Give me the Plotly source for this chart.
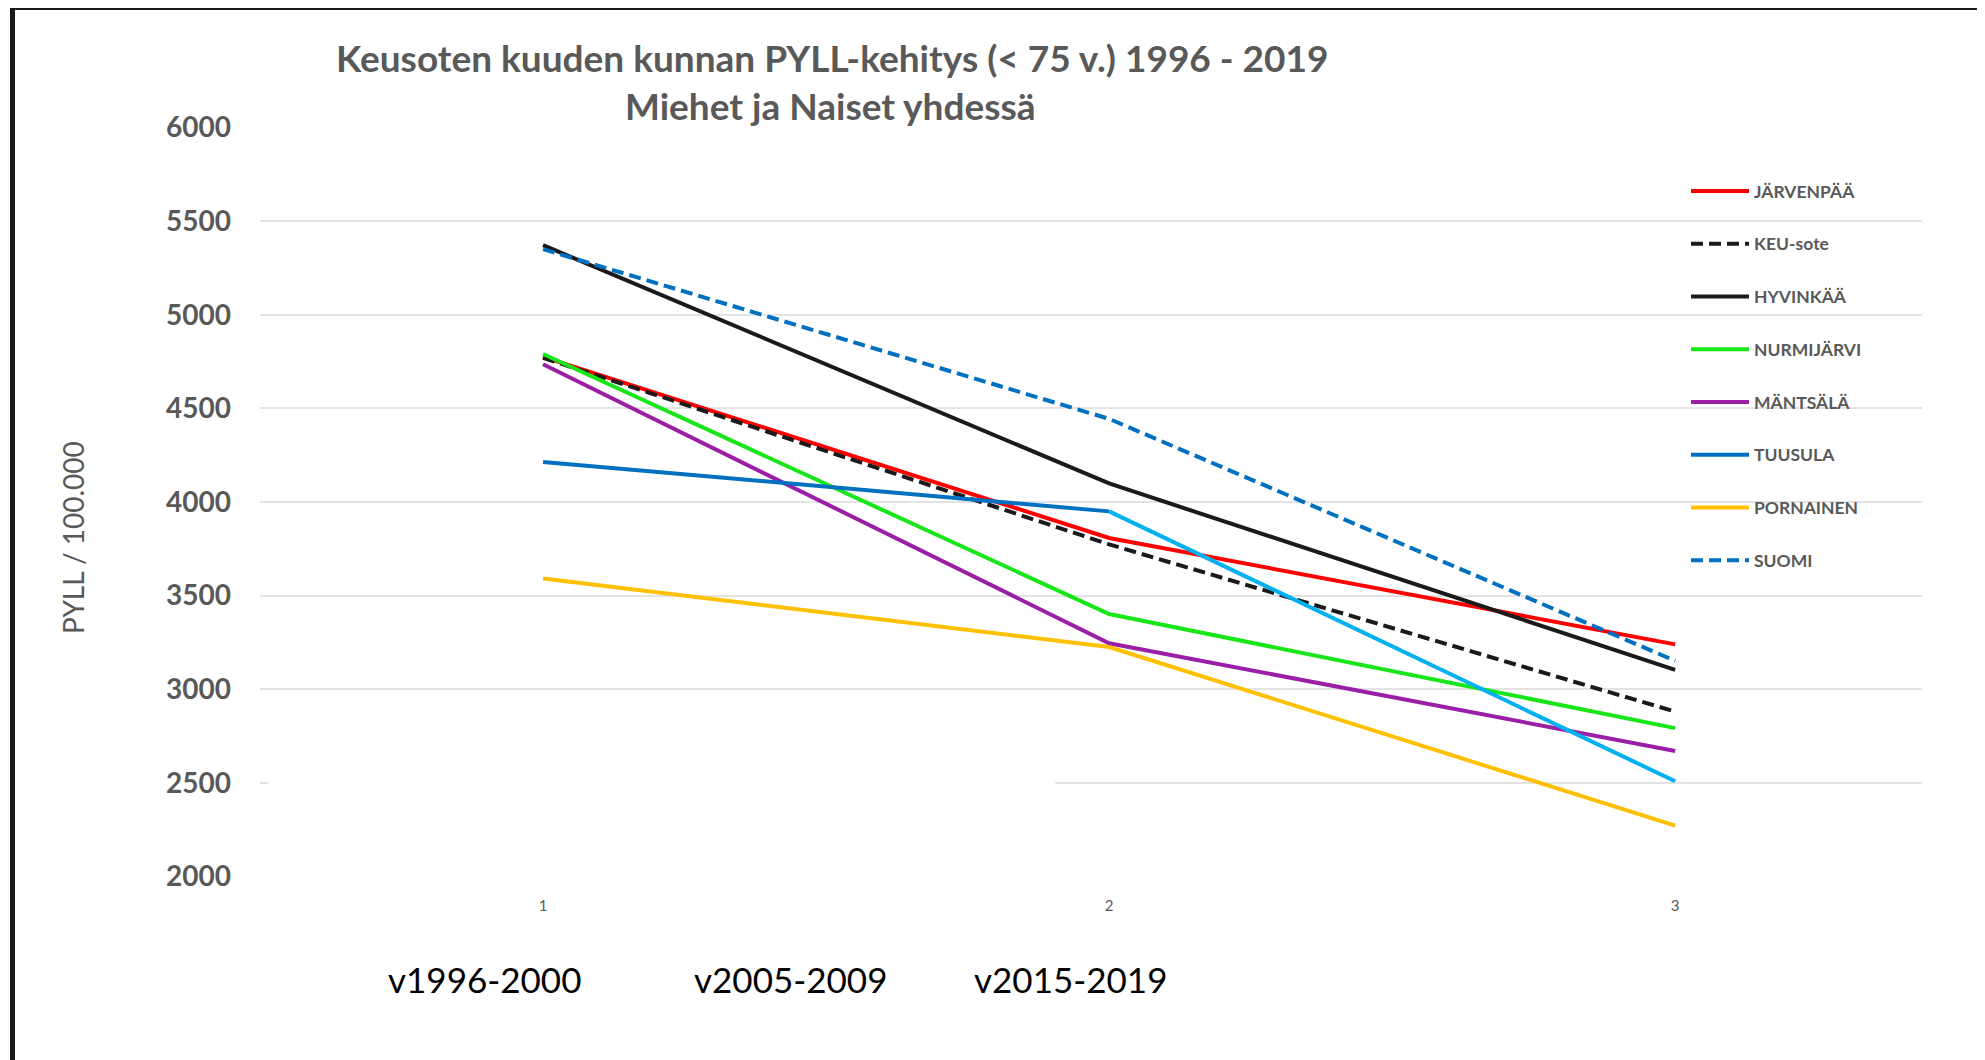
import plotly.graph_objects as go

# ---------------- data ----------------
x_points = [1, 2, 3]
period_labels = ["v1996-2000", "v2005-2009", "v2015-2019"]
y_ticks = [2000, 2500, 3000, 3500, 4000, 4500, 5000, 5500, 6000]

jarvenpaa = [4775, 3808, 3240]
keu_sote = [4770, 3774, 2881]
hyvinkaa = [5371, 4099, 3104]
nurmijarvi = [4790, 3402, 2793]
mantsala = [4735, 3246, 2671]
tuusula = [4214, 3950, 2509]
pornainen = [3591, 3226, 2272]
suomi = [5350, 4444, 3152]

title_line1 = "Keusoten kuuden kunnan PYLL-kehitys (< 75 v.) 1996 - 2019"
title_line2 = "Miehet ja Naiset yhdessä"
y_title = "PYLL / 100.000"

# ---------------- layout geometry ----------------
W, H = 1985, 1060
OFF = 8  # page body margin offset
# desired screen positions of plot area
SX0, SX1, SY0, SY1 = 260, 1922, 127, 877
L = SX0 - OFF
R = W - (SX1 - OFF)
T = SY0 - OFF
B = H - (SY1 - OFF)
PW, PH = W - L - R, H - T - B


def px_x(p):
    return (p - OFF - L) / PW


def px_y(p):
    return (H - B - (p - OFF)) / PH


GRAY = "#595959"
FONT = "Lato, Carlito, Calibri, sans-serif"

series = [
    ("JÄRVENPÄÄ", jarvenpaa, "#FF0000", "solid"),
    ("KEU-sote", keu_sote, "#1A1A1A", "12px,6px"),
    ("HYVINKÄÄ", hyvinkaa, "#1A1A1A", "solid"),
    ("NURMIJÄRVI", nurmijarvi, "#19E619", "solid"),
    ("MÄNTSÄLÄ", mantsala, "#9B1FA6", "solid"),
    ("TUUSULA", tuusula, "#0070C0", "solid"),
    ("PORNAINEN", pornainen, "#FFC000", "solid"),
    ("SUOMI", suomi, "#0070C0", "12px,6px"),
]

fig = go.Figure()
for name, vals, color, dash in series:
    if name == "TUUSULA":
        fig.add_trace(go.Scatter(
            x=x_points[:2], y=vals[:2], mode="lines", name=name,
            legendgroup=name,
            line=dict(color=color, width=4, dash=dash)))
        fig.add_trace(go.Scatter(
            x=x_points[1:], y=vals[1:], mode="lines", name=name,
            legendgroup=name, showlegend=False,
            line=dict(color="#00B0F0", width=4, dash=dash)))
    else:
        fig.add_trace(go.Scatter(
            x=x_points, y=vals, mode="lines", name=name,
            legendgroup=name,
            line=dict(color=color, width=4, dash=dash)))

annotations = [
    dict(text=f"<b>{title_line1}</b>", x=px_x(832), y=px_y(58), xref="paper", yref="paper",
         showarrow=False, xanchor="center", yanchor="middle",
         font=dict(family=FONT, size=37, color=GRAY)),
    dict(text=f"<b>{title_line2}</b>", x=px_x(830), y=px_y(106), xref="paper", yref="paper",
         showarrow=False, xanchor="center", yanchor="middle",
         font=dict(family=FONT, size=37, color=GRAY)),
    dict(text=y_title, x=px_x(73), y=px_y(538), xref="paper", yref="paper",
         showarrow=False, textangle=-90, xanchor="center", yanchor="middle",
         font=dict(family=FONT, size=28, color=GRAY)),
]
for lab, cx in zip(period_labels, [484, 790, 1070]):
    annotations.append(dict(text=lab, x=px_x(cx), y=px_y(979), xref="paper", yref="paper",
                            showarrow=False, xanchor="center", yanchor="middle",
                            font=dict(family=FONT, size=35, color="#000000")))

shapes = [
    # white patch hiding part of the 2500 gridline (as in the reference)
    dict(type="rect", xref="x", yref="y", x0=0.515, x1=1.905, y0=2470, y1=2530,
         fillcolor="white", line=dict(width=0), layer="between"),
    # page frame
    dict(type="line", xref="paper", yref="paper", x0=px_x(12.5), x1=px_x(12.5),
         y0=px_y(5), y1=px_y(1075), line=dict(color="#1A1A1A", width=5)),
    dict(type="line", xref="paper", yref="paper", x0=px_x(10), x1=px_x(2000),
         y0=px_y(7.5), y1=px_y(7.5), line=dict(color="#1A1A1A", width=5)),
]

fig.update_layout(
    width=W, height=H,
    margin=dict(l=L, r=R, t=T, b=B),
    paper_bgcolor="white", plot_bgcolor="white",
    showlegend=True,
    legend=dict(
        x=px_x(1686), y=px_y(173), xanchor="left", yanchor="top",
        bgcolor="rgba(0,0,0,0)", tracegroupgap=27, itemwidth=58,
        font=dict(family=FONT, size=17.5, color=GRAY, weight="bold"),
    ),
    annotations=annotations,
    shapes=shapes,
    xaxis=dict(
        range=[0.5, 3.436], tickmode="array", tickvals=x_points,
        ticktext=[str(v) for v in x_points],
        showgrid=False, zeroline=False, showline=False,
        ticks="", ticklabelstandoff=18,
        tickfont=dict(family=FONT, size=15, color=GRAY),
    ),
    yaxis=dict(
        range=[1998, 6002], tickmode="array", tickvals=y_ticks,
        ticktext=[str(v) for v in y_ticks],
        showgrid=True, gridcolor="#E3E3E3", gridwidth=2,
        zeroline=False, showline=False, ticks="", ticklabelstandoff=28,
        tickfont=dict(family=FONT, size=28, color=GRAY, weight="bold"),
    ),
)

fig.write_html("out.html")
